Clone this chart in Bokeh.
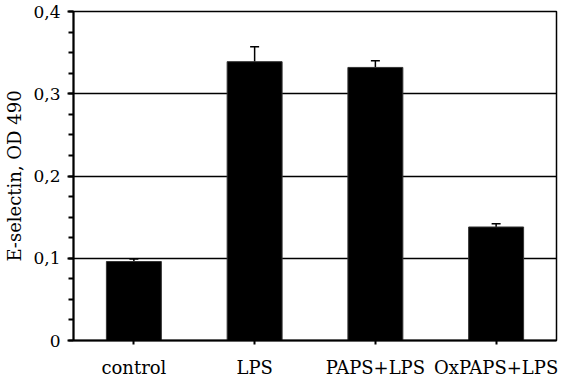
from bokeh.plotting import figure
from bokeh.models import ColumnDataSource, Whisker, CustomJSTickFormatter, FixedTicker, Range1d, TeeHead
from bokeh.embed import file_html
from bokeh.resources import INLINE

categories = ["control", "LPS", "PAPS+LPS", "OxPAPS+LPS"]
values = [0.096, 0.339, 0.332, 0.138]
errors = [0.003, 0.018, 0.008, 0.004]
y_ticks = [0, 0.1, 0.2, 0.3, 0.4]

upper = [v + e for v, e in zip(values, errors)]
src = ColumnDataSource(dict(cat=categories, val=values, upper=upper, lower=values))

FONT = "DejaVu Serif"

p = figure(x_range=categories, y_range=Range1d(0, 0.4), width=566, height=380,
           output_backend="svg", toolbar_location=None,
           min_border_left=73, min_border_right=10, min_border_top=11, min_border_bottom=40)

p.vbar(x="cat", top="val", width=0.455, source=src, fill_color="black", line_color="#333333")

w = Whisker(base="cat", upper="upper", lower="lower", source=src, line_color="black", line_width=1.5,
            upper_head=TeeHead(size=9, line_color="black", line_width=1.5),
            lower_head=None)
p.add_layout(w)

p.outline_line_color = "black"
p.outline_line_width = 1.5
p.background_fill_color = "white"
p.border_fill_color = "white"

p.xgrid.grid_line_color = None
p.ygrid.ticker = FixedTicker(ticks=[0.1, 0.2, 0.3])
p.ygrid.grid_line_color = "black"
p.ygrid.grid_line_width = 1.5

p.yaxis.ticker = FixedTicker(ticks=y_ticks, minor_ticks=[i * 0.025 for i in range(17)])
p.yaxis.formatter = CustomJSTickFormatter(
    code="return tick == 0 ? '0' : tick.toFixed(1).replace('.', ',');")
p.yaxis.axis_label = "E-selectin, OD 490"
for ax in (p.xaxis, p.yaxis):
    ax.axis_line_color = "black"
    ax.axis_line_width = 2
    ax.major_tick_line_color = "black"
    ax.major_tick_line_width = 2
    ax.minor_tick_line_color = "black"
    ax.minor_tick_line_width = 2
    ax.major_label_text_font = FONT
    ax.major_label_text_font_size = "18px"
    ax.major_label_text_color = "black"
    ax.axis_label_text_font = FONT
    ax.axis_label_text_font_size = "18px"
    ax.axis_label_text_font_style = "normal"
    ax.axis_label_text_color = "black"

p.yaxis.major_label_text_font_size = "17px"

p.yaxis.major_tick_in = 0
p.yaxis.major_tick_out = 6
p.yaxis.minor_tick_in = 0
p.yaxis.minor_tick_out = 5
p.yaxis.major_label_standoff = 7
p.yaxis.axis_label_standoff = 5

p.xaxis.major_tick_in = 0
p.xaxis.major_tick_out = 4
p.xaxis.major_label_standoff = 12

open("out.html", "w").write(file_html(p, INLINE))
